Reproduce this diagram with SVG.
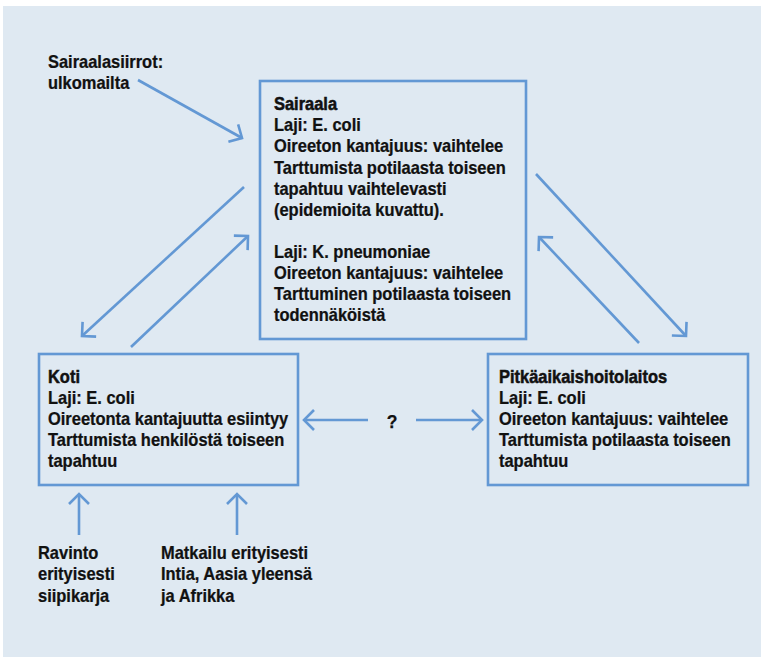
<svg xmlns="http://www.w3.org/2000/svg" width="761" height="659" viewBox="0 0 761 659">
<defs>
<style>
.bg{fill:#dfe9f2}
.box{fill:none;stroke:#6398d4;stroke-width:2.6}
.t{font-family:"Liberation Sans",Arial,sans-serif;font-size:17.5px;font-weight:bold;fill:#111;stroke:#111;stroke-width:0.25}
.h{stroke-width:0.5}
.c{fill:none;stroke:#6398d4;stroke-width:2.6}
</style>
<marker id="ah" markerUnits="userSpaceOnUse" markerWidth="30" markerHeight="30" viewBox="-15 -15 30 30" refX="0" refY="0" orient="auto">
<path d="M-10,-10 L0,0 L-10,10" fill="none" stroke="#6398d4" stroke-width="2.6"/>
</marker>
</defs>
<rect width="761" height="659" fill="#ffffff"/>
<rect class="bg" x="3" y="6" width="758" height="651"/>
<g id="connectors">
<line class="c" x1="138" y1="80" x2="242" y2="138" marker-end="url(#ah)"/>
<line class="c" x1="244" y1="187" x2="82" y2="336" marker-end="url(#ah)"/>
<line class="c" x1="131" y1="347" x2="248" y2="236" marker-end="url(#ah)"/>
<line class="c" x1="536" y1="174" x2="686" y2="336" marker-end="url(#ah)"/>
<line class="c" x1="639" y1="343" x2="539" y2="237" marker-end="url(#ah)"/>
<line class="c" x1="368" y1="420" x2="304" y2="420" marker-end="url(#ah)"/>
<line class="c" x1="416" y1="420" x2="482" y2="420" marker-end="url(#ah)"/>
<line class="c" x1="79" y1="535" x2="79" y2="494" marker-end="url(#ah)"/>
<line class="c" x1="237" y1="535" x2="237" y2="494" marker-end="url(#ah)"/>
<text class="t" x="392" y="428" text-anchor="middle">?</text>
</g>
<g id="sairaalasiirrot" transform="translate(48,0) scale(0.94,1)">
<text class="t" x="0" y="68">Sairaalasiirrot:</text>
<text class="t" x="0" y="89">ulkomailta</text>
</g>
<g id="sairaala">
<rect class="box" x="260" y="81" width="266" height="258"/>
<g transform="translate(274,0) scale(0.94,1)">
<text class="t h" x="0" y="110">Sairaala</text>
<text class="t" x="0" y="131">Laji: E. coli</text>
<text class="t" x="0" y="152">Oireeton kantajuus: vaihtelee</text>
<text class="t" x="0" y="174">Tarttumista potilaasta toiseen</text>
<text class="t" x="0" y="195">tapahtuu vaihtelevasti</text>
<text class="t" x="0" y="216">(epidemioita kuvattu).</text>
<text class="t" x="0" y="258">Laji: K. pneumoniae</text>
<text class="t" x="0" y="279">Oireeton kantajuus: vaihtelee</text>
<text class="t" x="0" y="300">Tarttuminen potilaasta toiseen</text>
<text class="t" x="0" y="321">todennäköistä</text>
</g>
</g>
<g id="koti">
<rect class="box" x="39" y="354" width="259" height="131"/>
<g transform="translate(48,0) scale(0.94,1)">
<text class="t h" x="0" y="383">Koti</text>
<text class="t" x="0" y="404">Laji: E. coli</text>
<text class="t" x="0" y="425">Oireetonta kantajuutta esiintyy</text>
<text class="t" x="0" y="446">Tarttumista henkilöstä toiseen</text>
<text class="t" x="0" y="467">tapahtuu</text>
</g>
</g>
<g id="pitkaaikaishoitolaitos">
<rect class="box" x="488" y="354" width="260" height="131"/>
<g transform="translate(499,0) scale(0.94,1)">
<text class="t h" x="0" y="383">Pitkäaikaishoitolaitos</text>
<text class="t" x="0" y="404">Laji: E. coli</text>
<text class="t" x="0" y="425">Oireeton kantajuus: vaihtelee</text>
<text class="t" x="0" y="446">Tarttumista potilaasta toiseen</text>
<text class="t" x="0" y="467">tapahtuu</text>
</g>
</g>
<g id="ravinto" transform="translate(38,0) scale(0.94,1)">
<text class="t" x="0" y="559">Ravinto</text>
<text class="t" x="0" y="580">erityisesti</text>
<text class="t" x="0" y="602">siipikarja</text>
</g>
<g id="matkailu" transform="translate(161,0) scale(0.94,1)">
<text class="t" x="0" y="559">Matkailu erityisesti</text>
<text class="t" x="0" y="580">Intia, Aasia yleensä</text>
<text class="t" x="0" y="602">ja Afrikka</text>
</g>
</svg>
